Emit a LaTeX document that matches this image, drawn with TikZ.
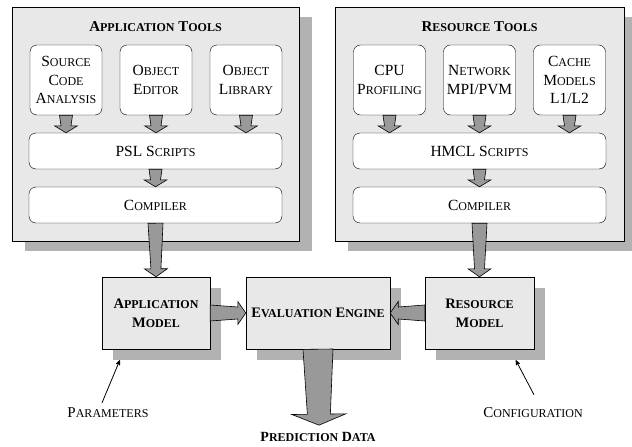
\documentclass[tikz,border=0pt]{standalone}
\usepackage{fontspec}
\setmainfont{Liberation Serif}
\usepackage{tikz}
\usetikzlibrary{arrows,calc,shadows,positioning}

% small letters of the fake small caps
\newcommand\sk[1]{{\fontsize{12}{18.5}\selectfont #1}}
\newcommand\skb[1]{{\fontsize{12}{18}\selectfont #1}}

% tapered block arrow: start, tip, half width at start, at neck, of head, head length
\newcommand\fatarrow[6]{%
  \coordinate (neck) at ($(#2)!#6!(#1)$);
  \draw[fat] ($(#1)!#3!90:(#2)$) -- ($(neck)!#4!90:(#2)$) -- ($(neck)!#5!90:(#2)$)
    -- (#2) -- ($(neck)!#5!-90:(#2)$) -- ($(neck)!#4!-90:(#2)$) -- ($(#1)!#3!-90:(#2)$) -- cycle;
}

\tikzset{
  panel/.style={draw, line width=0.8pt, fill=black!9, minimum height=234pt,
    drop shadow={shadow xshift=13pt, shadow yshift=-10pt, fill=black!30, opacity=1}},
  title/.style={font=\fontsize{15}{18}\selectfont\bfseries},
  tool/.style={draw, fill=white, rounded corners=7pt, minimum width=72pt, minimum height=70pt,
    align=center, inner sep=1pt, font=\fontsize{15.5}{18.5}\selectfont},
  script/.style={draw, fill=white, rounded corners=7pt, minimum width=253pt, minimum height=36pt,
    font=\fontsize{15.5}{18.5}\selectfont},
  model/.style={draw, fill=black!9, minimum height=72pt, align=center,
    font=\fontsize{14.5}{19}\selectfont\bfseries,
    drop shadow={shadow xshift=11pt, shadow yshift=-11pt, fill=black!30, opacity=1}},
  fat/.style={draw, fill=black!40, line width=0.6pt, line join=miter},
  label/.style={font=\fontsize{15}{18}\selectfont, inner sep=1pt}
}

\begin{document}
\begin{tikzpicture}[x=1pt,y=-1pt,>=stealth',node distance=90pt]
  \useasboundingbox (0,0) rectangle (632,447);

  % tool panels
  \node [panel, minimum width=287pt] (apptools) at (155.5,124) {};
  \node [panel, minimum width=289pt] (restools) at (479.5,124) {};
  \node [title] (apptitle) at (155.5,27) {A\skb{PPLICATION} T\skb{OOLS}};
  \node [title] (restitle) at (479.5,27) {R\skb{ESOURCE} T\skb{OOLS}};

  \node [tool] (src) at (66,80) {S\sk{OURCE}\\C\sk{ODE}\\A\sk{NALYSIS}};
  \node [tool] (objed) [right of = src] {O\sk{BJECT}\\E\sk{DITOR}};
  \node [tool] (objlib) [right of = objed] {O\sk{BJECT}\\L\sk{IBRARY}};
  \node [script] (psl) at (155.5,151) {PSL S\sk{CRIPTS}};
  \node [script] (comp1) at (155.5,205) {C\sk{OMPILER}};

  \node [tool] (cpu) at (389.5,80) {CPU\\P\sk{ROFILING}};
  \node [tool] (net) [right of = cpu] {N\sk{ETWORK}\\MPI/PVM};
  \node [tool] (cache) [right of = net] {C\sk{ACHE}\\M\sk{ODELS}\\L1/L2};
  \node [script] (hmcl) at (479.5,151) {HMCL S\sk{CRIPTS}};
  \node [script] (comp2) at (479.5,205) {C\sk{OMPILER}};

  % models
  \node [model, minimum width=108pt] (appmodel) at (156,313) {A\skb{PPLICATION}\\M\skb{ODEL}};
  \node [model, minimum width=144pt] (eval) at (318,313) {E\skb{VALUATION} E\skb{NGINE}};
  \node [model, minimum width=109pt] (resmodel) at (479.5,313) {R\skb{ESOURCE}\\M\skb{ODEL}};

  \node [label] (param) at (108,413) {P\sk{ARAMETERS}};
  \node [label] (config) at (533,413) {C\sk{ONFIGURATION}};
  \node [label, font=\fontsize{14}{18}\selectfont\bfseries] (pred) at (318,437) {P\sk{REDICTION} D\sk{ATA}};

  \coordinate (parin) at ($(appmodel.south west)+(18,11)$);
  \coordinate (confin) at ($(resmodel.south west)+(91,11)$);
  \coordinate (predtip) at ($(pred.north)+(1,-6)$);

  % block arrows
  \foreach \t in {src,objed,objlib}{
    \fatarrow{\t.south}{\t.south |- psl.north}{6.5pt}{5pt}{11.5pt}{7pt}
  }
  \foreach \t in {cpu,net,cache}{
    \fatarrow{\t.south}{\t.south |- hmcl.north}{6.5pt}{5pt}{11.5pt}{7pt}
  }
  \fatarrow{psl.south}{comp1.north}{6.5pt}{5pt}{11.5pt}{7pt}
  \fatarrow{hmcl.south}{comp2.north}{6.5pt}{5pt}{11.5pt}{7pt}
  \fatarrow{comp1.south}{appmodel.north}{7.5pt}{5pt}{11.5pt}{8pt}
  \fatarrow{comp2.south}{resmodel.north}{7.5pt}{5pt}{11.5pt}{8pt}
  \fatarrow{appmodel.east}{eval.west}{8pt}{6pt}{11.5pt}{8pt}
  \fatarrow{resmodel.west}{eval.east}{8pt}{6pt}{11.5pt}{8pt}
  \fatarrow{eval.south}{predtip}{15pt}{11.5pt}{27pt}{11pt}

  % inputs
  \draw [->, thick] ($(param.north)+(-6,-4)$) -- (parin);
  \draw [->, thick] ($(config.north)+(1,-12)$) -- (confin);
\end{tikzpicture}
\end{document}
